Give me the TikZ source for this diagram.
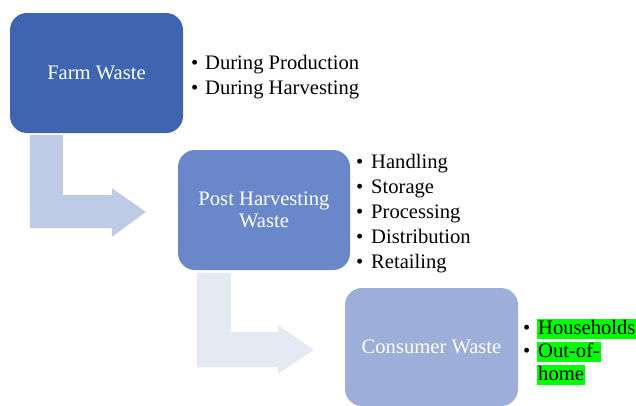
\documentclass[tikz,border=0pt]{standalone}
\usepackage{fontspec}
\newfontfamily\tnr{Liberation Serif}
\usetikzlibrary{calc}
\definecolor{boxA}{HTML}{3F64B0}
\definecolor{boxB}{HTML}{6A88C9}
\definecolor{boxC}{HTML}{9DAED8}
\definecolor{arrA}{HTML}{BFCAE6}
\definecolor{arrB}{HTML}{E5E9F4}
\definecolor{hl}{HTML}{00FF00}
\tikzset{
  stage/.style={rounded corners=17pt, minimum width=173pt, minimum height=120pt, align=center,
    text=white, font=\tnr\fontsize{20.6}{22}\selectfont, inner sep=0pt},
  bul/.style={anchor=base west, inner sep=0pt, font=\tnr\fontsize{20.6}{22}\selectfont},
  item/.style={anchor=base west, inner sep=0pt, font=\tnr\fontsize{20.6}{22}\selectfont},
  hitem/.style={item, fill=hl, inner xsep=1pt, inner ysep=0pt, text height=15pt, text depth=5pt}
}
\begin{document}
\begin{tikzpicture}[x=1pt,y=-1pt]
\useasboundingbox (0,0) rectangle (636,405);
% boxes
\node[stage, fill=boxA] (farm) at (96.5,73) {Farm Waste};
\node[stage, fill=boxB, minimum width=172pt] (post) at (264,210) {Post Harvesting\\Waste};
\node[stage, fill=boxC, minimum height=118pt] (cons) at (431.5,347) {Consumer Waste};
% bent arrows
\fill[arrA] ($(farm.south west)+(20,2)$) -- ++(33,0) |- ($(post.west)+(-66,-15)$)
  -- ++(0,-7) -- ($(post.west)+(-32,2)$) -- ($(post.west)+(-66,27)$) -- ++(0,-9) -| cycle;
\fill[arrB] ($(cons.north west |- post.south)+(-148,3)$) -- ++(34,0) |- ($(cons.west)+(-67,-15)$)
  -- ++(0,-7) -- ($(cons.west)+(-31,3)$) -- ($(cons.west)+(-67,27)$) -- ++(0,-7) -| cycle;
% bullet lists
\node[bul] (b1) at (191,69) {\textbullet};
\node[item] (t1) at (205,69) {During Production};
\node[bul] (b2) at (191,94) {\textbullet};
\node[item] (t2) at (205,94) {During Harvesting};

\node[bul] (c1) at (356,168) {\textbullet};
\node[item] (u1) at (371,168) {Handling};
\node[bul] (c2) at (356,193) {\textbullet};
\node[item] (u2) at (371,193) {Storage};
\node[bul] (c3) at (356,218) {\textbullet};
\node[item] (u3) at (371,218) {Processing};
\node[bul] (c4) at (356,243) {\textbullet};
\node[item] (u4) at (371,243) {Distribution};
\node[bul] (c5) at (356,268) {\textbullet};
\node[item] (u5) at (371,268) {Retailing};

\node[bul] (d1) at (523,334) {\textbullet};
\node[hitem] (v1) at (537,334) {Households};
\node[bul] (d2) at (523,357) {\textbullet};
\node[hitem] (v2) at (537,357) {Out-of-};
\node[hitem] (v3) at (537,380) {home};
\end{tikzpicture}
\end{document}
